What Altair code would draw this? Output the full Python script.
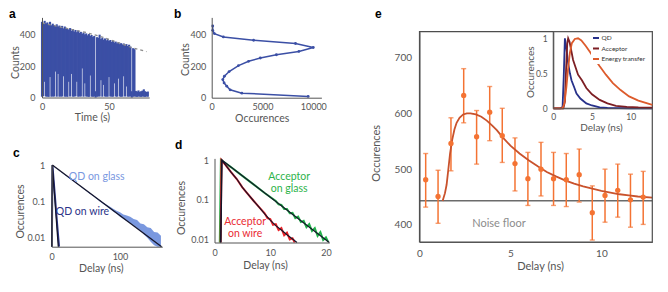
import altair as alt
import pandas as pd

W, H = 652, 276
FONT = "Lato"
AXC = "#555555"

# ---------------- panel a : intensity trace ----------------
a_time = list(range(80))
a_high = [482, 470, 488, 472, 478, 465, 482, 460, 470, 462,
          455, 466, 452, 458, 447, 456, 440, 452, 444, 436,
          432, 442, 425, 436, 420, 430, 416, 426, 412, 418,
          406, 414, 402, 408, 396, 404, 392, 398, 386, 392,
          40, 384, 380, 400, 372, 382, 368, 376, 364, 372,
          360, 366, 354, 362, 350, 356, 345, 352, 340, 346,
          338, 344, 333, 340, 328, 336, 324, 40, 314, 308,
          42, 38, 45, 36, 40, 44, 52, 40, 35, 38]
a_low = [5, 8, 100, 6, 5, 4, 130, 5, 6, 6,
         165, 5, 150, 5, 6, 6, 135, 5, 6, 4,
         100, 6, 150, 5, 6, 7, 100, 5, 6, 6,
         185, 5, 90, 6, 5, 4, 140, 5, 5, 6,
         0, 5, 6, 6, 110, 5, 80, 6, 5, 5,
         130, 6, 5, 5, 90, 6, 5, 120, 6, 5,
         5, 135, 6, 70, 5, 6, 6, 0, 5, 6,
         5, 4, 6, 5, 4, 6, 5, 4, 6, 5]
a_thr_time = [0, 10, 20, 33, 45, 56, 67, 78]
a_thr_counts = [474, 456, 437, 414, 385, 352, 318, 292]

# ---------------- panel b : histogram ----------------
b_counts = [8, 29, 50, 73, 94, 115, 136, 166, 204, 231, 252, 273, 294, 319, 344, 365, 386, 407, 428, 456]
b_occ = [9500, 2970, 1815, 1485, 1220, 1090, 1250, 1716, 2640, 3630, 4785, 6370, 8580, 10000, 8250, 4125, 1150, 264, 100, 100]

# ---------------- panel c : QD lifetimes ----------------
c_glass_t = [0, 5, 10, 15, 20, 25, 30, 35, 40, 45, 50, 55, 60, 65, 70, 75, 80, 85, 90, 95,
             100, 105, 110, 115, 120, 125, 130, 135, 140, 145, 150, 155, 160]
c_glass_hi = [1.0, 0.86, 0.73, 0.625, 0.535, 0.455, 0.39, 0.33, 0.282, 0.24, 0.205, 0.175, 0.15, 0.128, 0.11,
              0.094, 0.081, 0.071, 0.062, 0.054, 0.049, 0.043, 0.040, 0.037, 0.032, 0.030, 0.024, 0.023,
              0.019, 0.018, 0.014, 0.0135, 0.011]
c_glass_lo = [1.0, 0.84, 0.715, 0.605, 0.515, 0.437, 0.37, 0.316, 0.27, 0.228, 0.194, 0.164, 0.14, 0.119, 0.10,
              0.085, 0.073, 0.062, 0.052, 0.045, 0.037, 0.032, 0.028, 0.025, 0.021, 0.018, 0.015, 0.012,
              0.0098, 0.0075, 0.006, 0.0055, 0.0055]
c_glass_fit_t = [0.9, 161]
c_glass_fit_v = [1.0, 0.0055]
c_wire_t = [0.4, 1.2, 3, 5, 7, 9, 10.9]
c_wire_v = [0.0055, 1.0, 0.37, 0.125, 0.042, 0.0145, 0.0055]
c_wire_fit_t = [0.05, 0.9, 9.7]
c_wire_fit_v = [0.0055, 1.0, 0.0055]

# ---------------- panel d : acceptor lifetimes ----------------
d_green_t = [0.95, 1.15, 3, 5, 7, 9, 11, 11.5, 12, 12.5, 13, 13.5, 14, 14.5, 15, 15.5, 16, 16.5,
             17, 17.5, 18, 18.5, 19, 19.5, 20, 20.4]
d_green_v = [0.0082, 1.0, 0.654, 0.398, 0.242, 0.147, 0.092, 0.076, 0.073, 0.058, 0.058, 0.045, 0.046,
             0.034, 0.037, 0.027, 0.029, 0.020, 0.024, 0.016, 0.019, 0.012, 0.015, 0.0095, 0.011, 0.0085]
d_red_t = [1.1, 1.25, 2, 3, 4, 5, 6, 7, 8, 9, 9.5, 10, 10.5, 11, 11.5, 12, 12.5, 13, 13.5, 14, 14.4]
d_red_v = [0.0082, 1.0, 0.741, 0.49, 0.331, 0.204, 0.138, 0.0933, 0.0646, 0.045, 0.034, 0.032, 0.023,
           0.024, 0.017, 0.019, 0.0125, 0.0145, 0.0098, 0.0105, 0.0082]
d_gfit_t = [1.1, 1.3, 20.6]
d_gfit_v = [0.0082, 1.0, 0.0082]
d_rfit_t = [1.15, 1.35, 2, 3, 4, 5, 6, 7, 8, 9, 10, 11, 12, 13, 14, 14.8]
d_rfit_v = [0.0082, 1.0, 0.741, 0.49, 0.331, 0.204, 0.138, 0.0933, 0.0646, 0.0437, 0.0302, 0.0219,
            0.017, 0.0129, 0.01, 0.0082]

# ---------------- panel e : energy transfer ----------------
e_t = [0.34, 1.02, 1.73, 2.43, 3.14, 3.86, 4.55, 5.25, 5.96, 6.68, 7.37, 8.07, 8.78, 9.50, 10.20, 10.90, 11.60, 12.30]
e_v = [481, 451, 546, 632, 558, 602, 560, 510, 483, 500, 483, 481, 490, 422, 453, 462, 445, 450]
e_lo = [432, 403, 497, 583, 509, 551, 512, 461, 435, 452, 435, 433, 441, 373, 405, 414, 396, 401]
e_hi = [528, 498, 592, 680, 605, 648, 609, 556, 530, 548, 530, 528, 536, 470, 500, 509, 491, 496]
e_fit_t = [1.27, 1.4, 1.49, 1.58, 1.68, 1.8, 1.92, 2.04, 2.2, 2.4, 2.6, 2.8, 3.1, 3.4, 3.7, 4.0, 4.25,
           4.6, 5.0, 5.5, 6.0, 6.5, 7.0, 7.5, 8.0, 8.5, 9.0, 9.5, 10.0, 10.5, 11.0, 11.5, 12.0, 12.8]
e_fit_v = [443, 457, 472, 498, 528, 553, 571, 583, 592, 598, 600, 600, 598, 594, 587, 578, 570,
           556, 542, 528, 516, 505, 495, 487, 480, 474, 469, 465, 461, 458, 455, 453, 451, 449]
e_noise = 443.5

# inset curves
i_qd_t = [0, 0.9, 1.2, 1.35, 1.5, 1.7, 1.92, 2.15, 2.35, 2.7, 3.0, 3.5, 4.27, 5.0, 6.0, 7.0, 8.5, 10, 12.8]
i_qd_v = [0, 0, 0.02, 0.45, 1.0, 0.85, 0.64, 0.50, 0.40, 0.30, 0.21, 0.14, 0.07, 0.04, 0.014, 0.006, 0.002, 0.001, 0]
i_ac_t = [0, 1.3, 1.5, 1.65, 1.8, 1.92, 2.1, 2.56, 3.2, 3.7, 4.27, 5.0, 6.0, 7.0, 8.1, 9.5, 11, 12.8]
i_ac_v = [0, 0, 0.1, 0.55, 0.92, 1.0, 0.95, 0.69, 0.48, 0.40, 0.29, 0.2, 0.12, 0.07, 0.035, 0.02, 0.012, 0.008]
i_et_t = [0, 1.2, 1.45, 1.7, 1.9, 2.14, 2.4, 2.78, 3.2, 3.63, 4.2, 4.7, 5.3, 6.0, 6.8, 7.7, 8.7, 9.8, 11, 12.8]
i_et_v = [0, 0, 0.08, 0.31, 0.55, 0.79, 0.93, 0.99, 1.0, 0.97, 0.89, 0.81, 0.71, 0.60, 0.48, 0.36, 0.26, 0.17, 0.11, 0.048]
i_names = ["QD", "Acceptor", "Energy transfer"]
i_colors = ["#27318a", "#7d1f24", "#dd5b2c"]

# colours
BLUE_A = "#3b4fa5"
C_LIGHT = "#7a98df"
C_NAVY = "#2b3488"
FITK = "#15152a"
GREEN = "#22b24b"
RED = "#ec2329"
ORANGE = "#f47333"
EFIT = "#c9522c"


def scale(domain, rng, typ="linear"):
    return alt.Scale(type=typ, domain=domain, range=rng, nice=False, zero=False)


def common(fs_lab, fs_tit):
    return dict(ticks=False, tickSize=0, labelFlush=False, labelOverlap=False, labelBound=False,
                labelFontSize=fs_lab, titleFontSize=fs_tit, labelColor=AXC, titleColor=AXC,
                domainColor=AXC, domainWidth=1, labelFont=FONT, titleFont=FONT,
                titleFontWeight="normal", grid=False, zindex=1)


def left_axis(xpos, values, title, tpos, pad, fs_lab, fs_tit, fmt=None):
    kw = common(fs_lab, fs_tit)
    kw.update(orient="left", offset=-xpos, values=values, title=title,
              titleX=tpos[0] - xpos, titleY=tpos[1], titleAngle=270,
              titleAlign="center", titleBaseline="middle", labelPadding=pad)
    if fmt:
        kw["format"] = fmt
    return alt.Axis(**kw)


def bottom_axis(ypos, values, title, tpos, pad, fs_lab, fs_tit, fmt=None):
    kw = common(fs_lab, fs_tit)
    kw.update(orient="bottom", offset=ypos - H, values=values, title=title,
              titleX=tpos[0], titleY=tpos[1] - ypos, titleAlign="center",
              titleBaseline="middle", labelPadding=pad, labelBaseline="middle")
    if fmt:
        kw["format"] = fmt
    return alt.Axis(**kw)


def X(field, sc, ax):
    return alt.X(field, type="quantitative", scale=sc, axis=ax)


def Y(field, sc, ax):
    return alt.Y(field, type="quantitative", scale=sc, axis=ax)


def texts(labels, ts, vs, color, size, xs, ys, xa, ya):
    df = pd.DataFrame({"t": ts, "v": vs, "lab": labels})
    return alt.Chart(df).mark_text(font=FONT, fontSize=size, color=color, align="center",
                                   baseline="middle").encode(x=X("t", xs, xa), y=Y("v", ys, ya), text="lab:N")


# ---------- panel a ----------
sa_x = scale([0, 80], [34, 141.2])
sa_y = scale([0, 510], [89.5, 9.4])
ax_ax = bottom_axis(89.5, [0, 50], "Time (s)", (84, 109), 8.5, 9, 10.5)
ax_ay = left_axis(34, [0, 200, 400], "Counts", (7, 54), 7, 9, 10.5)
df_a = pd.DataFrame({"t": a_time, "v": a_low, "v2": a_high})
df_thr = pd.DataFrame({"t": a_thr_time, "v": a_thr_counts})
pa = alt.layer(
    alt.Chart(df_a).mark_rule(color=BLUE_A, strokeWidth=2.1).encode(
        x=X("t", sa_x, ax_ax), y=Y("v", sa_y, ax_ay), y2="v2:Q"),
    alt.Chart(df_thr).mark_line(color="#8c8c8c", strokeWidth=1.2, strokeDash=[3, 3]).encode(
        x=X("t", sa_x, ax_ax), y=Y("v", sa_y, ax_ay)),
)

# ---------- panel b ----------
sb_x = scale([0, 10800], [203.7, 313.4])
sb_y = scale([0, 510], [89.7, 9.4])
ax_bx = bottom_axis(89.7, [0, 5000, 10000], "Occurences", (253.7, 110.3), 9, 9, 10.5, fmt="d")
ax_by = left_axis(203.7, [0, 200, 400], "Counts", (177, 51), 6, 9, 10.5)
df_b = pd.DataFrame({"t": b_occ, "v": b_counts})
pb = alt.layer(
    alt.Chart(df_b).mark_line(color=BLUE_A, strokeWidth=1.5).encode(
        x=X("t", sb_x, ax_bx), y=Y("v", sb_y, ax_by), order="v:Q"),
    alt.Chart(df_b).mark_circle(color=BLUE_A, size=8, opacity=1).encode(
        x=X("t", sb_x, ax_bx), y=Y("v", sb_y, ax_by)),
)

# ---------- panel c ----------
sc_x = scale([0, 162], [43.7, 154.3])
sc_y = scale([0.0055, 1], [238.7, 157], "log")
ax_cx = bottom_axis(238.7, [0, 100], "Delay (ns)", (92.8, 260.3), 10, 9, 10.5)
ax_cy = left_axis(43.7, [0.01, 0.1, 1], "Occurences", (12.7, 203), 7, 9, 10.5, fmt="~g")
df_cg = pd.DataFrame({"t": c_glass_t, "v": c_glass_lo, "v2": c_glass_hi})
df_cgf = pd.DataFrame({"t": c_glass_fit_t, "v": c_glass_fit_v})
df_cw = pd.DataFrame({"t": c_wire_t, "v": c_wire_v})
df_cwf = pd.DataFrame({"t": c_wire_fit_t, "v": c_wire_fit_v})
pc = alt.layer(
    alt.Chart(df_cg).mark_area(color=C_LIGHT, opacity=1).encode(
        x=X("t", sc_x, ax_cx), y=Y("v", sc_y, ax_cy), y2="v2:Q"),
    alt.Chart(df_cw).mark_line(color=C_NAVY, strokeWidth=1.8).encode(
        x=X("t", sc_x, ax_cx), y=Y("v", sc_y, ax_cy), order="t:Q"),
    alt.Chart(df_cgf).mark_line(color=FITK, strokeWidth=1.3).encode(
        x=X("t", sc_x, ax_cx), y=Y("v", sc_y, ax_cy)),
    alt.Chart(df_cwf).mark_line(color=FITK, strokeWidth=1.3).encode(
        x=X("t", sc_x, ax_cx), y=Y("v", sc_y, ax_cy), order="t:Q"),
    texts(["QD on glass"], [66], [0.47], C_LIGHT, 10.5, sc_x, sc_y, ax_cx, ax_cy),
    texts(["QD on wire"], [45], [0.051], C_NAVY, 10.5, sc_x, sc_y, ax_cx, ax_cy),
)

# ---------- panel d ----------
sd_x = scale([0, 20.6], [206.5, 321.3])
sd_y = scale([0.0082, 1.1], [234.5, 150.4], "log")
ax_dx = bottom_axis(234.5, [0, 10, 20], "Delay (ns)", (257, 257), 10, 9, 10.5)
ax_dy = left_axis(206.5, [0.01, 0.1, 1], "Occurences", (173, 199.5), 6, 9, 10.5, fmt="~g")
df_dg = pd.DataFrame({"t": d_green_t, "v": d_green_v})
df_dr = pd.DataFrame({"t": d_red_t, "v": d_red_v})
df_dgf = pd.DataFrame({"t": d_gfit_t, "v": d_gfit_v})
df_drf = pd.DataFrame({"t": d_rfit_t, "v": d_rfit_v})
pdd = alt.layer(
    alt.Chart(df_dg).mark_line(color=GREEN, strokeWidth=2).encode(
        x=X("t", sd_x, ax_dx), y=Y("v", sd_y, ax_dy), order="t:Q"),
    alt.Chart(df_dr).mark_line(color=RED, strokeWidth=2).encode(
        x=X("t", sd_x, ax_dx), y=Y("v", sd_y, ax_dy), order="t:Q"),
    alt.Chart(df_dgf).mark_line(color=FITK, strokeWidth=1.2).encode(
        x=X("t", sd_x, ax_dx), y=Y("v", sd_y, ax_dy), order="t:Q"),
    alt.Chart(df_drf).mark_line(color=FITK, strokeWidth=1.2).encode(
        x=X("t", sd_x, ax_dx), y=Y("v", sd_y, ax_dy), order="t:Q"),
    texts(["Acceptor", "on glass"], [13.4, 13.4], [0.38, 0.19], "#2db34a", 10.5, sd_x, sd_y, ax_dx, ax_dy),
    texts(["Acceptor", "on wire"], [5.5, 5.5], [0.0275, 0.0134], "#ea2b33", 10.5, sd_x, sd_y, ax_dx, ax_dy),
)

# ---------- panel e ----------
se_x = scale([0, 12.8], [411.5, 644.3])
se_y = scale([369.5, 746.2], [234, 23.7])
ax_ex = bottom_axis(234, [0, 5, 10], "Delay (ns)", (532, 258.7), 11, 10, 11)
ax_ey = left_axis(411.5, [400, 500, 600, 700], "Occurences", (368.7, 144.8), 8, 10, 11)
df_e = pd.DataFrame({"t": e_t, "v": e_v, "lo": e_lo, "hi": e_hi})
df_ef = pd.DataFrame({"t": e_fit_t, "v": e_fit_v})
df_noise = pd.DataFrame({"t": [0], "t2": [12.8], "v": [e_noise]})
df_frame = pd.DataFrame({"t": [0], "t2": [12.8], "v": [369.5], "v2": [746.2]})
pe = alt.layer(
    alt.Chart(df_noise).mark_rule(color="#6b6b6b", strokeWidth=1.6).encode(
        x=X("t", se_x, ax_ex), x2="t2:Q", y=Y("v", se_y, ax_ey)),
    alt.Chart(df_e).mark_rule(color=ORANGE, strokeWidth=1.5).encode(
        x=X("t", se_x, ax_ex), y=Y("lo", se_y, ax_ey), y2="hi:Q"),
    alt.Chart(df_e).mark_tick(color=ORANGE, orient="horizontal", size=5, thickness=1.4).encode(
        x=X("t", se_x, ax_ex), y=Y("lo", se_y, ax_ey)),
    alt.Chart(df_e).mark_tick(color=ORANGE, orient="horizontal", size=5, thickness=1.4).encode(
        x=X("t", se_x, ax_ex), y=Y("hi", se_y, ax_ey)),
    alt.Chart(df_ef).mark_line(color=EFIT, strokeWidth=1.8).encode(
        x=X("t", se_x, ax_ex), y=Y("v", se_y, ax_ey)),
    alt.Chart(df_e).mark_circle(color=ORANGE, size=28, opacity=1).encode(
        x=X("t", se_x, ax_ex), y=Y("v", se_y, ax_ey)),
    texts(["Noise floor"], [4.37], [402], "#8c8c8c", 11, se_x, se_y, ax_ex, ax_ey),
    alt.Chart(df_frame).mark_rect(fillOpacity=0, stroke="#4d4d4d", strokeWidth=1.2).encode(
        x=X("t", se_x, ax_ex), x2="t2:Q", y=Y("v", se_y, ax_ey), y2="v2:Q"),
)

# ---------- inset ----------
si_x = scale([0, 12.8], [545.3, 644.3])
si_y = scale([0, 1.094], [100.3, 23.7])
ax_ix = bottom_axis(100.3, [0, 5, 10], "Delay (ns)", (593, 119.3), 8.4, 8.5, 10)
ax_iy = left_axis(545.3, [0, 0.5, 1], "Occurences", (522.7, 63.7), 6, 8.5, 10, fmt="~g")
rows = []
for name, ts, vs in zip(i_names, [i_qd_t, i_ac_t, i_et_t], [i_qd_v, i_ac_v, i_et_v]):
    for k, (tt, vv) in enumerate(zip(ts, vs)):
        rows.append({"t": tt, "v": vv, "series": name, "k": k})
df_i = pd.DataFrame(rows)
df_iframe = pd.DataFrame({"t": [0], "t2": [12.8], "v": [0], "v2": [1.094]})
pin = alt.layer(
    alt.Chart(df_iframe).mark_rect(fill="white", stroke="#4d4d4d", strokeWidth=1.1).encode(
        x=X("t", si_x, ax_ix), x2="t2:Q", y=Y("v", si_y, ax_iy), y2="v2:Q"),
    alt.Chart(df_i).mark_line(strokeWidth=1.8, clip=False).encode(
        x=X("t", si_x, ax_ix), y=Y("v", si_y, ax_iy), order="k:Q",
        color=alt.Color("series:N", scale=alt.Scale(domain=i_names, range=i_colors),
                        legend=alt.Legend(orient="none", legendX=583, legendY=25, title=None,
                                          symbolType="stroke", symbolStrokeWidth=2, symbolSize=36,
                                          labelFontSize=6.5, labelFont=FONT, labelColor="#333333",
                                          rowPadding=2.5, padding=1, fillColor="white",
                                          labelOffset=1.5, symbolOffset=0))),
)

# ---------- panel letters ----------
let_lab = ["a", "b", "c", "d", "e"]
let_x = [1, 166, 5, 167, 367]
let_y = [10, 10, 149, 141, 10]
df_let = pd.DataFrame({"px": let_x, "py": let_y, "lab": let_lab})
letters = alt.Chart(df_let).mark_text(font="Liberation Sans", fontWeight="bold", fontSize=12,
                                      color="black", align="left", baseline="alphabetic").encode(
    x=alt.X("px:Q", scale=alt.Scale(domain=[0, W], range=[0, W]), axis=None),
    y=alt.Y("py:Q", scale=alt.Scale(domain=[0, H], range=[0, H]), axis=None),
    text="lab:N")

chart = alt.layer(pa, pb, pc, pdd, pe, pin, letters).resolve_scale(
    x="independent", y="independent", color="independent"
).properties(
    width=W, height=H, padding=0, autosize=alt.AutoSizeParams(type="none"), background="white"
).configure_view(stroke=None)

chart.save("out.html", embed_options={"renderer": "svg", "actions": False})
